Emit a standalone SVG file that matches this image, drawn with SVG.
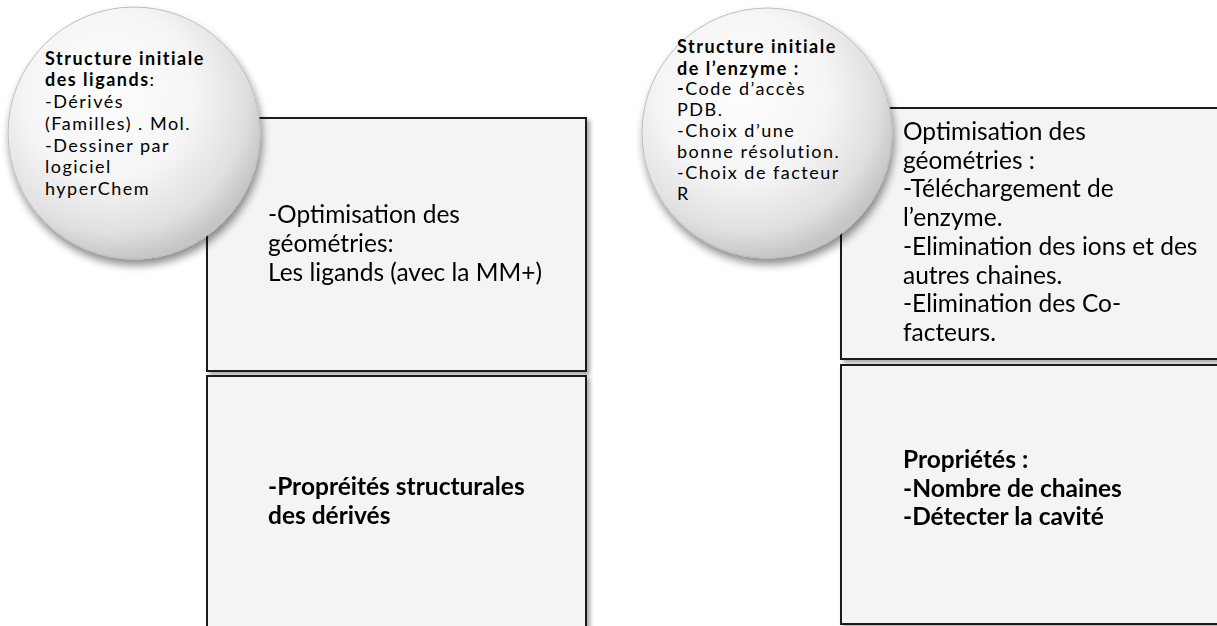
<svg xmlns="http://www.w3.org/2000/svg" width="1217" height="626" viewBox="0 0 1217 626">
<defs>
<radialGradient id="ball" cx="0.42" cy="0.38" r="0.62" fx="0.38" fy="0.3">
<stop offset="0" stop-color="#ffffff"/>
<stop offset="0.55" stop-color="#f5f5f5"/>
<stop offset="0.85" stop-color="#e0e0e0"/>
<stop offset="1" stop-color="#c6c6c6"/>
</radialGradient>
<filter id="cshadow" x="-20%" y="-20%" width="140%" height="150%">
<feGaussianBlur in="SourceAlpha" stdDeviation="4"/>
<feOffset dx="2" dy="6" result="b"/>
<feComponentTransfer><feFuncA type="linear" slope="0.45"/></feComponentTransfer>
<feMerge><feMergeNode/><feMergeNode in="SourceGraphic"/></feMerge>
</filter>
<filter id="bshadow" x="-10%" y="-10%" width="120%" height="120%">
<feGaussianBlur in="SourceAlpha" stdDeviation="2"/>
<feOffset dx="3" dy="3" result="b"/>
<feComponentTransfer><feFuncA type="linear" slope="0.35"/></feComponentTransfer>
<feMerge><feMergeNode/><feMergeNode in="SourceGraphic"/></feMerge>
</filter>
</defs>
<style>
.box{fill:#f4f4f4;stroke:#1c1c1c;stroke-width:2}
.ball{fill:url(#ball);stroke:#bdbdbd;stroke-width:1}
.t{font-family:Lato,"Liberation Sans",sans-serif;fill:#000}
.big{font-size:24.5px}
.sm{font-size:18px;letter-spacing:1.5px}
.b{font-weight:bold}
</style>
<rect width="1217" height="626" fill="#ffffff"/>
<g id="connectors"></g>
<g id="box-lig-opt" filter="url(#bshadow)">
<rect class="box" x="207" y="118" width="379" height="253"/>
<text class="t big" x="268" y="223">-Optimisation des</text>
<text class="t big" x="268" y="252">géométries:</text>
<text class="t big" x="268" y="281">Les ligands (avec la MM+)</text>
</g>
<g id="box-lig-prop" filter="url(#bshadow)">
<rect class="box" x="207" y="376" width="379" height="260"/>
<text class="t big b" x="268" y="495">-Propréités structurales</text>
<text class="t big b" x="268" y="524">des dérivés</text>
</g>
<g id="ball-lig">
<circle class="ball" cx="134" cy="133" r="126" filter="url(#cshadow)"/>
<text class="t sm b" x="45" y="65">Structure initiale</text>
<text class="t sm" x="45" y="86"><tspan class="b">des ligands</tspan>:</text>
<text class="t sm" x="45" y="108">-Dérivés</text>
<text class="t sm" x="45" y="130">(Familles) . Mol.</text>
<text class="t sm" x="45" y="152">-Dessiner par</text>
<text class="t sm" x="45" y="173">logiciel</text>
<text class="t sm" x="45" y="195">hyperChem</text>
</g>
<g id="box-enz-opt" filter="url(#bshadow)">
<rect class="box" x="841" y="108" width="400" height="251"/>
<text class="t big" x="903" y="140">Optimisation des</text>
<text class="t big" x="903" y="169">géométries :</text>
<text class="t big" x="903" y="197">-Téléchargement de</text>
<text class="t big" x="903" y="226">l’enzyme.</text>
<text class="t big" x="903" y="255">-Elimination des ions et des</text>
<text class="t big" x="903" y="284">autres chaines.</text>
<text class="t big" x="903" y="312">-Elimination des Co-</text>
<text class="t big" x="903" y="341">facteurs.</text>
</g>
<g id="box-enz-prop" filter="url(#bshadow)">
<rect class="box" x="841" y="365" width="400" height="259"/>
<text class="t big b" x="903" y="468">Propriétés :</text>
<text class="t big b" x="903" y="497">-Nombre de chaines</text>
<text class="t big b" x="903" y="525">-Détecter la cavité</text>
</g>
<g id="ball-enz">
<circle class="ball" cx="767" cy="133" r="125" filter="url(#cshadow)"/>
<text class="t sm b" x="677" y="53">Structure initiale</text>
<text class="t sm b" x="677" y="75">de l’enzyme :</text>
<text class="t sm" x="677" y="95"><tspan class="b">-</tspan>Code d’accès</text>
<text class="t sm" x="677" y="116">PDB.</text>
<text class="t sm" x="677" y="137">-Choix d’une</text>
<text class="t sm" x="677" y="158">bonne résolution.</text>
<text class="t sm" x="677" y="179">-Choix de facteur</text>
<text class="t sm" x="677" y="200">R</text>
</g>
</svg>
